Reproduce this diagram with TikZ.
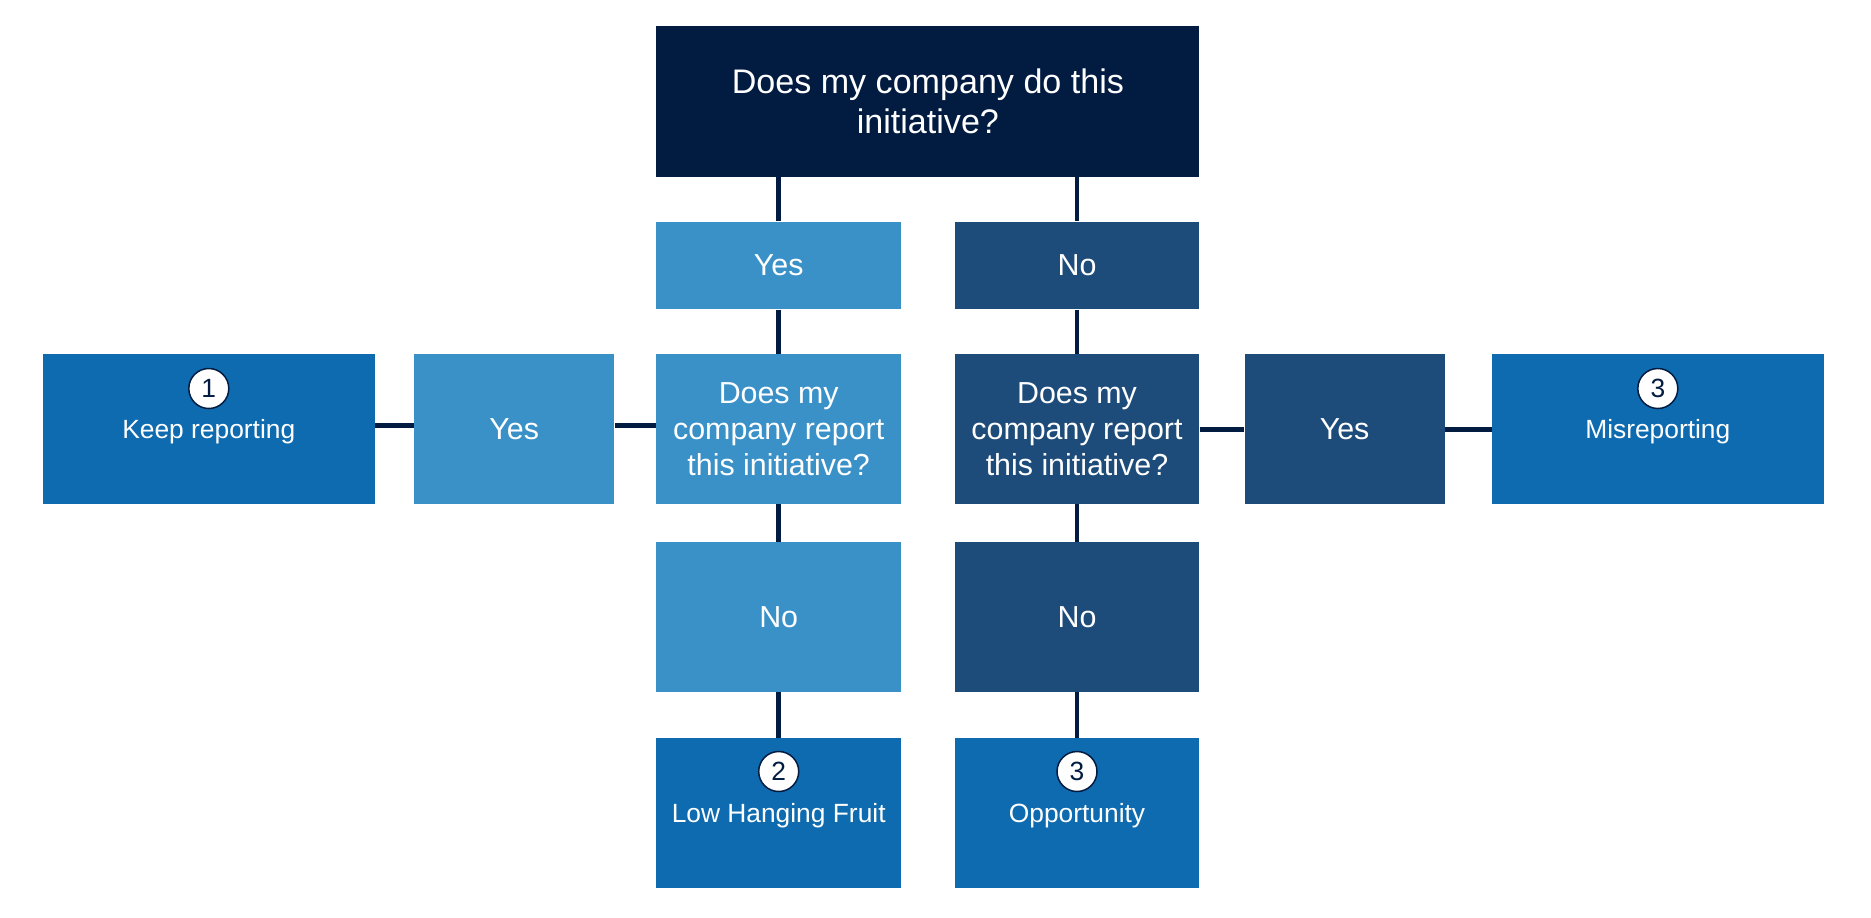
\documentclass[tikz,border=0pt]{standalone}
\usepackage{fontspec}
\setmainfont{Liberation Sans}
\definecolor{navy}{RGB}{2,27,65}
\definecolor{paleblue}{RGB}{58,145,200}
\definecolor{steelblue}{RGB}{30,76,122}
\definecolor{midblue}{RGB}{15,107,175}

\begin{document}
\begin{tikzpicture}[x=0.02cm, y=0.02cm]
				\tikzstyle{every node}+=[inner sep=0pt, text=white]
				\tikzstyle{box}=[rectangle, minimum width=4.89cm, minimum height=3cm, align=center, font=\fontsize{17.3}{20.6}\selectfont]
				\tikzstyle{endbox}=[box, fill=midblue, text depth=0pt, font=\fontsize{15}{18}\selectfont]
				\tikzstyle{badge}=[circle, fill=white, draw=navy, line width=0.85pt, minimum size=0.8cm, text=navy, font=\fontsize{15}{18}\selectfont]
				\tikzstyle{link}=[draw=navy, line width=2.8pt]
				\useasboundingbox (0,0) rectangle (1871,-917);
				\node [box, fill=navy, minimum width=10.86cm, minimum height=3.02cm, font=\fontsize{19.4}{22.4}\selectfont] (initiative) at (927.9,-101.4) {Does my company do this\\initiative?};
				\node [box, fill=paleblue, minimum height=1.75cm] (doyes) at (778.7,-265.5) {Yes};
				\node [box, fill=steelblue, minimum height=1.75cm] (dono) at (1077,-265.5) {No};
				\node [box, fill=paleblue] (reportq1) at (778.7,-429.1) {Does my\\company report\\this initiative?};
				\node [box, fill=steelblue] (reportq2) at (1077,-429.1) {Does my\\company report\\this initiative?};
				\node [box, fill=paleblue, minimum width=4cm] (repyes1) at (514.2,-429.1) {Yes};
				\node [box, fill=steelblue, minimum width=4cm] (repyes2) at (1344.6,-429.1) {Yes};
				\node [endbox, minimum width=6.64cm] (keep) at (208.8,-429.1) {Keep reporting};
				\node [endbox, minimum width=6.64cm] (misrep) at (1657.8,-429.1) {Misreporting};
				\node [box, fill=paleblue] (repno1) at (778.7,-617.1) {No};
				\node [box, fill=steelblue] (repno2) at (1077,-617.1) {No};
				\node [endbox] (lowfruit) at (778.7,-813) {Low Hanging Fruit};
				\node [endbox] (opportunity) at (1077,-813) {Opportunity};
				\node [badge] (keepnum) at (208.8,-388.5) {1};
				\node [badge] (misrepnum) at (1657.8,-388.5) {3};
				\node [badge] (lowfruitnum) at (778.7,-771.5) {2};
				\node [badge] (opportunitynum) at (1077,-771.5) {3};
				\draw [link] (doyes.north |- initiative.south) -- (doyes.north);
				\draw [link] (dono.north |- initiative.south) -- (dono.north);
				\draw [link] (doyes) -- (reportq1);
				\draw [link] (dono) -- (reportq2);
				\draw [link] (reportq1) -- (repno1);
				\draw [link] (reportq2) -- (repno2);
				\draw [link] (repno1) -- (lowfruit);
				\draw [link] (repno2) -- (opportunity);
				\draw [link] ([yshift=0.07cm]reportq1.west) -- ([yshift=0.07cm]repyes1.east);
				\draw [link] ([yshift=0.07cm]repyes1.west) -- ([yshift=0.07cm]keep.east);
				\draw [link] (reportq2) -- (repyes2);
				\draw [link] (repyes2) -- (misrep);
			\end{tikzpicture}
\end{document}
